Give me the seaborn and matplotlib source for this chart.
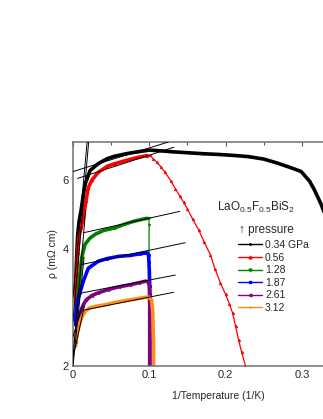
import numpy as np
import matplotlib
matplotlib.use("Agg")
import matplotlib.pyplot as plt
import seaborn as sns
from matplotlib.lines import Line2D

sns.set_style("white")
plt.rcParams['font.family'] = ['Liberation Sans', 'DejaVu Sans']
plt.rcParams['mathtext.fontset'] = 'custom'
plt.rcParams['mathtext.rm'] = 'Liberation Sans'
plt.rcParams['mathtext.it'] = 'Liberation Sans:italic'

# data: 1/T (1/K) and resistivity (mOhm cm)
labels = ["0.34 GPa", "0.56", "1.28", "1.87", "2.61", "3.12"]

x_034 = [0.0033, 0.0045, 0.006, 0.008, 0.0105, 0.013, 0.016, 0.0224, 0.033, 0.045, 0.055,
         0.07, 0.085, 0.1, 0.115, 0.13, 0.145, 0.17, 0.19, 0.21, 0.23, 0.25, 0.268, 0.285,
         0.299, 0.31, 0.316, 0.325, 0.33, 0.34, 0.35, 0.36]
r_034 = [3.1, 3.7, 4.3, 4.7, 5.0, 5.4, 5.86, 6.34, 6.6, 6.8, 6.9,
         7.0, 7.08, 7.15, 7.12, 7.08, 7.05, 7.0, 6.97, 6.93, 6.88, 6.78, 6.62, 6.45,
         6.3, 5.95, 5.67, 5.2, 4.9, 4.2, 3.3, 2.4]

x_056 = [0.0033, 0.0045, 0.006, 0.008, 0.011, 0.0136, 0.017, 0.02, 0.025, 0.033, 0.045,
         0.055, 0.07, 0.085, 0.097, 0.101, 0.105, 0.11, 0.115, 0.12, 0.128, 0.134, 0.14,
         0.145, 0.15, 0.157, 0.165, 0.172, 0.18, 0.186, 0.193, 0.2, 0.205, 0.209, 0.213,
         0.217, 0.221, 0.226, 0.23]
r_056 = [2.9, 3.4, 3.9, 4.3, 4.55, 4.8, 5.3, 5.73, 6.0, 6.27, 6.5,
         6.6, 6.73, 6.85, 6.92, 6.93, 6.8, 6.65, 6.48, 6.3, 5.97, 5.7, 5.45,
         5.25, 5.05, 4.75, 4.45, 4.15, 3.86, 3.55, 3.27, 3.05, 2.88, 2.74, 2.53,
         2.33, 2.17, 2.0, 1.9]

x_128 = [0.0033, 0.005, 0.007, 0.009, 0.0114, 0.0158, 0.022, 0.029, 0.04, 0.055, 0.068,
         0.08, 0.09, 0.097, 0.0995, 0.0997, 0.0998]
r_128 = [2.6, 2.85, 3.1, 3.43, 3.79, 4.1, 4.25, 4.35, 4.45, 4.52, 4.62,
         4.7, 4.75, 4.78, 4.78, 4.6, 1.9]

x_187 = [0.0033, 0.0045, 0.006, 0.009, 0.0136, 0.02, 0.033, 0.045, 0.06, 0.075, 0.088,
         0.097, 0.099, 0.0995, 0.1, 0.1005, 0.101, 0.101, 0.101, 0.101]
r_187 = [2.55, 2.8, 2.95, 3.08, 3.3, 3.56, 3.71, 3.77, 3.82, 3.84, 3.88,
         3.9, 3.85, 3.7, 3.5, 3.2, 2.9, 2.6, 2.3, 1.9]

x_261 = [0.0033, 0.0045, 0.006, 0.008, 0.0105, 0.0136, 0.017, 0.0246, 0.033, 0.046, 0.06,
         0.075, 0.087, 0.095, 0.099, 0.1, 0.1003, 0.1005, 0.1005, 0.1005]
r_261 = [2.3, 2.4, 2.5, 2.63, 2.78, 2.87, 2.95, 3.03, 3.08, 3.14, 3.19,
         3.23, 3.27, 3.3, 3.28, 3.2, 3.05, 2.85, 2.4, 1.9]

x_312 = [0.0033, 0.0048, 0.0065, 0.009, 0.012, 0.016, 0.022, 0.032, 0.042, 0.055, 0.068,
         0.082, 0.095, 0.1, 0.103, 0.1045, 0.105, 0.1055, 0.1055, 0.1055]
r_312 = [2.25, 2.38, 2.48, 2.58, 2.68, 2.76, 2.82, 2.85, 2.87, 2.91, 2.94,
         2.97, 3.0, 3.0, 2.95, 2.75, 2.5, 2.3, 2.1, 1.9]

# Arrhenius fit lines: (x0, rho0, x1, rho1)
fits_high_T = [(0.0, 3.0, 0.0185, 7.5), (0.0, 2.6, 0.0205, 7.5), (0.0, 2.11, 0.0165, 5.0),
               (0.0, 2.0, 0.0145, 3.8), (0.0, 2.1, 0.015, 2.85), (0.0, 2.38, 0.012, 2.85)]
fits_low_T = [(0.0, 6.3, 0.125, 7.5), (0.006, 6.05, 0.132, 7.27), (0.0136, 4.39, 0.14, 4.98),
              (0.0114, 3.64, 0.147, 4.14), (0.012, 3.08, 0.134, 3.42), (0.0136, 2.78, 0.132, 3.09)]

xs = [x_034, x_056, x_128, x_187, x_261, x_312]
rs = [r_034, r_056, r_128, r_187, r_261, r_312]
colors = ["black", "#ff0000", "#008000", "#0000ff", "#800080", "#ff8c1a"]
markers = [".", "^", "v", "s", "<", "+"]
thick_until = [1.0, 0.098, 0.098, 1.0, 1.0, 1.0]

fig = plt.figure(figsize=(3.23, 4.19), dpi=100)
ax = fig.add_axes([73/323, 53/419, 290/323, 224/419])

for x, r, c, m, cut in zip(xs, rs, colors, markers, thick_until):
    x = np.array(x)
    r = np.array(r)
    sns.lineplot(x=x, y=r, ax=ax, color=c, lw=0.9, sort=False, estimator=None,
                 marker=m, markersize=1.8, markeredgewidth=0.5, markeredgecolor=c)
    keep = x <= cut
    sns.lineplot(x=x[keep], y=r[keep], ax=ax, color=c, lw=2.6, sort=False, estimator=None)

for x0, r0, x1, r1 in fits_high_T + fits_low_T:
    ax.plot([x0, x1], [r0, r1], color="black", lw=0.7, zorder=5)

ax.set_yscale("log")
ax.set_xlim(0, 0.38)
ax.set_ylim(2, 7.5)
ax.set_yticks([2, 3, 4, 5, 6, 7])
ax.set_yticklabels(["2", "", "4", "", "6", ""])
ax.yaxis.set_minor_locator(matplotlib.ticker.NullLocator())
ax.set_xticks([0, 0.1, 0.2, 0.3])
ax.set_xticklabels(["0", "0.1", "0.2", "0.3"])
ax.xaxis.set_minor_locator(matplotlib.ticker.MultipleLocator(0.05))
ax.tick_params(which="both", direction="in", top=True, right=True, length=3,
               width=0.8, color="#555555", labelsize=8, pad=3)
ax.tick_params(which="minor", length=2)
for s in ax.spines.values():
    s.set_color("#707070")
    s.set_linewidth(1.1)

ax.set_xlabel("1/Temperature (1/K)", fontsize=7.5, labelpad=8)
ax.set_ylabel("ρ (mΩ cm)", fontsize=7.5, labelpad=3)

fig.text(217/323, 1 - 207/419, r"LaO$_{0.5}$F$_{0.5}$BiS$_2$", fontsize=8.5,
         ha="left", va="center")
fig.text(239/323, 1 - 230/419, "↑ pressure", fontsize=8.5, ha="left", va="center")

handles = [Line2D([], [], color=c, lw=1.0, marker=m, markersize=2, markeredgecolor=c)
           for c, m in zip(colors, markers)]
fig.legend(handles, labels, loc="upper left", bbox_to_anchor=(238/323, 1 - 240/419),
           frameon=False, fontsize=7.5, handlelength=2.3, handletextpad=0.3,
           labelspacing=0.25, borderpad=0, borderaxespad=0)

fig.savefig("out.png", dpi=100)
